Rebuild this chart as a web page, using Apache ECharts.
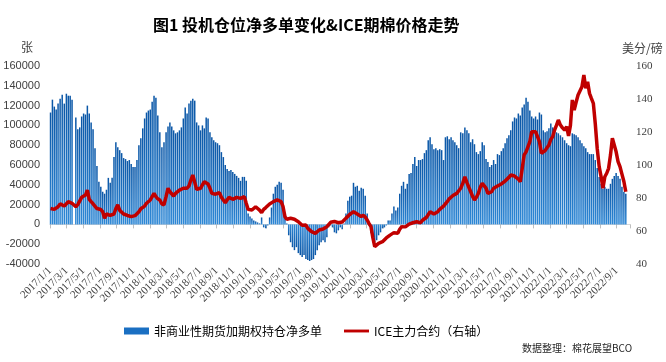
<!DOCTYPE html>
<html><head><meta charset="utf-8">
<script src="https://cdn.jsdelivr.net/npm/echarts@6/dist/echarts.min.js"></script>
<style>html,body{margin:0;padding:0;background:#fff}#c{width:666px;height:362px}</style>
</head><body><div id="c"></div>
<script>
// weekly observations, first report date 2017-01-03, one value per week
const firstWeek = [2017, 0, 3];

// 非商业性期货加期权持仓净多单 (张)
const netLong2017 = [113000,126000,119000,116000,122000,127000,131000,122000,132000,130000,130000,126000,null,108000,96000,98000,109000,112000,111000,120000,112000,103000,96000,77000,59000,43000,38000,33000,31000,35000,47000,42000,47000,68000,83000,78000,75000,72000,67000,66000,64000,65000,61000,58000,58000,65000,80000,87000,97000,107000,113000,115000];
const netLong2018 = [116000,124000,130000,128000,110000,93000,78000,83000,93000,99000,103000,99000,95000,92000,93000,95000,98000,107000,118000,112000,122000,125000,127000,125000,103000,100000,95000,100000,97000,108000,107000,93000,88000,85000,83000,82000,80000,73000,68000,60000,56000,54000,55000,53000,51000,49000,47000,44000,48000,48000,44000,11000];
const netLong2019 = [8000,6000,4000,3000,2000,1000,7000,-3000,-4000,-1000,7000,17000,31000,38000,40000,43000,42000,35000,7000,1000,-11000,-18000,-23000,-26000,-23000,-29000,-31000,-33000,-31000,-35000,-36000,-37000,-36000,-35000,-31000,-26000,-21000,-18000,-16000,-18000,-13000,-3000,-1000,-3000,-8000,-9000,-6000,-3000,-5000,1000,11000,24000,28000];
const netLong2020 = [29000,42000,38000,39000,34000,37000,36000,29000,11000,-1000,-9000,-14000,-18000,-16000,-11000,-8000,-4000,-3000,-1000,4000,4000,11000,18000,14000,17000,31000,39000,43000,36000,41000,51000,52000,61000,68000,59000,65000,65000,66000,72000,75000,85000,88000,81000,76000,77000,75000,76000,75000,65000,88000,89000,86000];
const netLong2021 = [88000,85000,83000,80000,77000,93000,92000,98000,95000,92000,83000,86000,81000,73000,71000,74000,83000,80000,66000,63000,58000,60000,65000,61000,71000,70000,74000,77000,82000,87000,90000,95000,104000,108000,107000,112000,110000,118000,121000,128000,124000,115000,109000,107000,109000,106000,113000,111000,95000,93000,94000,97000];
const netLong2022 = [102000,98000,95000,93000,92000,90000,88000,85000,82000,80000,79000,92000,91000,90000,88000,85000,82000,79000,77000,73000,71000,71000,71000,65000,57000,48000,41000,36000,38000,36000,36000,41000,46000,49000,52000,49000,46000,38000,33000,31000];

// ICE主力合约 (美分/磅)
const ice2017 = [73.6,73.4,73.1,74.2,74.7,76.4,75.8,75.1,76.5,77.8,77.2,76.8,76.4,74.7,76.0,77.2,80.4,79.2,81.8,84.8,79.2,77.8,76.5,75.8,73.6,74.7,73.0,71.7,67.7,70.3,71.1,69.5,68.7,70.3,73.6,75.8,72.5,71.7,70.3,69.7,69.4,69.1,68.7,69.7,69.3,69.1,71.7,73.5,74.7,75.1,76.8,78.0];
const ice2018 = [78.8,79.2,82.8,80.8,79.5,78.8,76.4,75.8,80.8,85.9,83.8,83.2,81.2,82.8,83.8,84.8,83.8,85.9,86.8,85.9,87.3,90.9,93.9,95.0,85.2,84.8,85.9,87.9,89.9,89.5,88.5,85.9,82.8,81.8,82.3,82.8,83.2,80.5,78.8,77.2,78.4,80.4,79.8,79.2,78.8,80.4,79.2,79.8,80.4,80.8,76.8,73.1];
const ice2019 = [72.7,72.7,73.6,74.7,73.5,72.7,71.1,73.1,74.2,74.7,76.4,77.2,77.8,78.4,78.8,78.4,77.8,74.7,68.7,67.1,67.7,67.7,66.7,67.1,66.0,65.6,64.7,63.5,63.0,63.6,61.6,60.6,59.6,59.6,58.6,59.6,60.6,61.6,61.2,61.0,62.6,63.8,65.3,66.5,65.8,65.0,65.0,64.7,65.5,66.7,67.8,68.7,70.0];
const ice2020 = [70.8,71.7,71.0,70.3,69.2,68.7,69.5,68.5,66.7,64.5,62.6,56.0,50.5,49.5,52.5,53.0,53.5,54.5,55.8,56.5,57.5,58.2,59.0,58.8,58.6,61.0,62.6,61.8,62.5,63.6,64.2,64.7,65.0,65.3,65.6,65.3,65.0,66.5,67.1,68.2,68.7,71.7,71.0,70.3,71.2,71.7,73.1,74.0,75.1,76.5,77.8,79.5];
const ice2021 = [80.4,81.5,81.8,82.8,84.0,85.9,89.0,92.9,89.3,86.5,83.8,81.0,78.8,80.5,82.8,86.5,88.9,89.5,86.0,82.8,83.3,83.8,85.9,86.5,87.3,88.0,88.5,89.5,90.3,90.9,92.5,93.9,93.5,93.3,93.3,91.5,89.9,90.9,106.1,108.0,109.1,114.1,120.2,119.5,120.2,119.6,114.1,107.1,108.0,108.7,110.5,112.1];
const ice2022 = [115.5,117.2,121.2,124.0,127.3,124.2,122.5,121.2,123.2,117.6,124.0,139.4,133.3,138.0,142.4,143.0,147.4,154.5,146.5,150.5,143.4,140.4,137.4,125.0,110.0,99.0,93.0,85.9,92.9,95.0,98.0,106.0,116.2,117.2,108.0,102.0,99.0,94.5,90.0,83.8];

const xTickLabels = ['2017/1/1','2017/3/1','2017/5/1','2017/7/1','2017/9/1','2017/11/1',
  '2018/1/1','2018/3/1','2018/5/1','2018/7/1','2018/9/1','2018/11/1',
  '2019/1/1','2019/3/1','2019/5/1','2019/7/1','2019/9/1','2019/11/1',
  '2020/1/1','2020/3/1','2020/5/1','2020/7/1','2020/9/1','2020/11/1',
  '2021/1/1','2021/3/1','2021/5/1','2021/7/1','2021/9/1','2021/11/1',
  '2022/1/1','2022/3/1','2022/5/1','2022/7/1','2022/9/1'];
const leftTicks = {min:-40000, max:160000, step:20000};
const rightTicks = {min:40, max:160, step:20};

const seriesNames = ['非商业性期货加期权持仓净多单','ICE主力合约（右轴）'];

const netLong = [].concat(netLong2017, netLong2018, netLong2019, netLong2020, netLong2021, netLong2022);
const ice = [].concat(ice2017, ice2018, ice2019, ice2020, ice2021, ice2022);

function weekDate(i){ const d = new Date(Date.UTC(firstWeek[0], firstWeek[1], firstWeek[2])); d.setUTCDate(d.getUTCDate()+7*i); return d; }
function monthPos(d){ const y=d.getUTCFullYear(), mo=d.getUTCMonth(); const dim=new Date(Date.UTC(y,mo+1,0)).getUTCDate(); return (y-2017)*12+mo+(d.getUTCDate()-1)/dim; }

const gradPos = new echarts.graphic.LinearGradient(0,0,0,1,[{offset:0,color:'#0a56a6'},{offset:1,color:'#2e88d6'}]);
const gradNeg = new echarts.graphic.LinearGradient(0,0,0,1,[{offset:0,color:'#2e88d6'},{offset:1,color:'#0a56a6'}]);

const barData = netLong.map((v,i)=>{
  const x = monthPos(weekDate(i));
  if (v == null) return [x, '-'];
  return v < 0 ? {value:[x,v], itemStyle:{color:gradNeg}} : [x,v];
});
const lineData = ice.map((v,i)=>[monthPos(weekDate(i)), v]);

const chart = echarts.init(document.getElementById('c'), null, {renderer:'canvas'});
const xMax = 69.6;
chart.setOption({
  animation:false,
  backgroundColor:'#fff',
  title:{text:'图1 投机仓位净多单变化&ICE期棉价格走势', left:148, top:12,
    textStyle:{fontSize:16, fontWeight:'bold', fontFamily:'Noto Sans CJK SC', color:'#000'}},
  grid:{left:50, right:36, top:66, bottom:98},
  legend:{left:119, top:320, itemWidth:25, itemHeight:7, itemGap:22,
    textStyle:{fontSize:12, fontFamily:'Noto Sans CJK SC', color:'#000'},
    data:[{name:seriesNames[0], icon:'rect', itemStyle:{color:'#1a6fc2'}},
          {name:seriesNames[1], icon:'path://M0,0L26,0L26,3L0,3Z', itemStyle:{color:'#c00000'}}]},
  xAxis:[
    {type:'value', min:0, max:xMax, interval:2, position:'top',
     axisLine:{show:true, onZero:true, onZeroAxisIndex:0, lineStyle:{color:'#d9d9d9', width:1}},
     axisTick:{show:true, inside:true, length:4, lineStyle:{color:'#bfbfbf'}},
     axisLabel:{show:false}, splitLine:{show:false}},
    {type:'value', min:0, max:xMax, interval:2, position:'bottom',
     axisLine:{show:false, onZero:false}, axisTick:{show:false}, splitLine:{show:false},
     axisLabel:{rotate:45, margin:5, fontSize:11, fontFamily:'Liberation Serif', color:'#404040',
       showMaxLabel:false,
       formatter:v=>{ const r=Math.round(v); if (Math.abs(v-r)>1e-6 || r%2) return ''; return xTickLabels[r/2]||''; }}}
  ],
  yAxis:[
    {type:'value', min:leftTicks.min, max:leftTicks.max, interval:leftTicks.step, position:'left',
     axisLine:{show:false}, axisTick:{show:false}, splitLine:{show:false},
     axisLabel:{margin:10, fontSize:11, fontFamily:'Liberation Sans', color:'#404040', formatter:v=>String(v)}},
    {type:'value', min:rightTicks.min, max:rightTicks.max, interval:rightTicks.step, position:'right',
     axisLine:{show:false}, axisTick:{show:false}, splitLine:{show:false},
     axisLabel:{margin:6, fontSize:11, fontFamily:'Liberation Serif', color:'#404040', formatter:v=>String(v)}}
  ],
  graphic:[
    {type:'text', left:21, top:41, style:{text:'张', fontSize:12, fontFamily:'Noto Sans CJK SC', fill:'#404040'}},
    {type:'text', left:622, top:42, style:{text:'美分/磅', fontSize:12, fontFamily:'Noto Sans CJK SC', fill:'#404040'}},
    {type:'text', left:522, top:343, style:{text:'数据整理：棉花展望BCO', fontSize:10, fontFamily:'Noto Sans CJK SC', fill:'#262626'}}
  ],
  series:[
    {name:seriesNames[0], type:'bar', xAxisIndex:1, yAxisIndex:0, barWidth:1.5, clip:false,
     itemStyle:{color:gradPos}, data:barData, z:2},
    {name:seriesNames[1], type:'line', xAxisIndex:1, yAxisIndex:1, showSymbol:false, symbol:'none',
     lineStyle:{color:'#c00000', width:3.5}, itemStyle:{color:'#c00000'}, data:lineData, z:3}
  ]
});
</script></body></html>
